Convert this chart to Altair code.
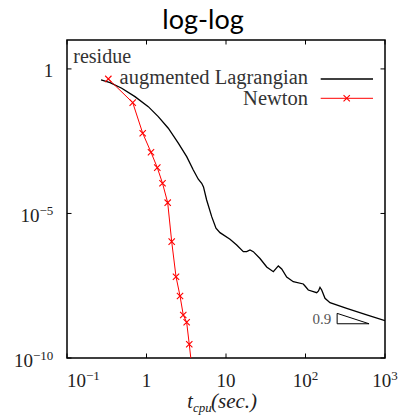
import altair as alt
import pandas as pd

# Residual history of the augmented Lagrangian solver (CPU time in seconds, residue)
al_time = [0.268, 0.348, 0.488, 0.716, 1.053, 1.406, 1.879, 2.512, 3.204, 3.879,
           4.484, 4.947, 5.21, 5.71, 6.61, 7.48, 8.40, 11.23, 13.63, 16.51,
           18.21, 20.04, 22.05, 26.77, 32.5, 39.4, 45.5, 50.2, 58.0, 70.2,
           93.8, 98.6, 108.4, 138.3, 145.7, 152.2, 159.9, 175.9, 203.3, 329.7,
           588.8, 1000]
al_res = [0.416, 0.336, 0.215, 0.110, 0.0496, 0.0224, 8.87e-3, 2.69e-3, 9.23e-4, 3.20e-4,
          1.53e-4, 1.11e-4, 8.26e-5, 2.93e-5, 7.75e-6, 3.08e-6, 2.17e-6, 1.28e-6, 8.13e-7, 4.77e-7,
          4.77e-7, 5.46e-7, 4.77e-7, 2.77e-7, 1.41e-7, 9.68e-8, 1.53e-7, 1.20e-7, 6.35e-8, 4.37e-8,
          3.64e-8, 3.10e-8, 2.25e-8, 1.82e-8, 2.08e-8, 2.79e-8, 2.25e-8, 1.16e-8, 8.19e-9, 5.25e-9,
          3.08e-9, 1.95e-9]

# Newton iterations
nt_time = [0.331, 0.671, 0.896, 1.139, 1.367, 1.590, 1.848, 2.075, 2.35, 2.64,
           2.90, 3.20, 3.45, 3.94]
nt_res = [0.451, 0.0682, 5.96e-3, 1.31e-3, 3.85e-4, 1.11e-4, 2.36e-5, 1.06e-6, 6.5e-8, 1.40e-8,
          3.08e-9, 1.72e-9, 2.98e-10, 1.17e-11]

# slope triangle (slope 0.9)
tri_time = [250, 250, 630, 250]
tri_res = [3.5e-9, 1.53e-9, 1.53e-9, 3.5e-9]
slope_label = "0.9"

# axis ticks and their labels (base and exponent)
x_ticks = [0.1, 1, 10, 100, 1000]
x_base = ["10", "1", "10", "10", "10"]
x_exp = ["\u22121", "", "", "2", "3"]
y_ticks = [1, 1e-5, 1e-10]
y_base = ["1", "10", "10"]
y_exp = ["", "\u22125", "\u221210"]

series_names = ["augmented Lagrangian", "Newton"]
title_text = "log-log"
y_title = "residue"

W, H = 318, 318
SERIF = "'Liberation Serif', 'DejaVu Serif', serif"
INK = "#222222"
RED = "#ff0000"
FS = 19
FS_EXP = 13
X_MARK = "M-1,-1L1,1M-1,1L1,-1"

xs = alt.Scale(type="log", domain=[0.1, 1000], nice=False)
ys = alt.Scale(type="log", domain=[1e-10, 10], nice=False)


def X(field):
    return alt.X(f"{field}:Q", scale=xs, axis=None)


def Y(field):
    return alt.Y(f"{field}:Q", scale=ys, axis=None)


def text_at(s, x, y, size=FS, align="left", style="normal", color=INK, font=SERIF):
    return alt.Chart(pd.DataFrame({"s": [s]})).mark_text(
        align=align, baseline="alphabetic", fontSize=size, font=font,
        fontStyle=style, color=color
    ).encode(x=alt.value(x), y=alt.value(y), text="s:N")


def exp_width(e):
    return sum(0.564 if c == "\u2212" else 0.5 for c in e) * FS_EXP


al_df = pd.DataFrame({"t": al_time, "r": al_res, "i": range(len(al_time))})
nt_df = pd.DataFrame({"t": nt_time, "r": nt_res, "i": range(len(nt_time))})
tri_df = pd.DataFrame({"t": tri_time, "r": tri_res, "i": range(len(tri_time))})

layers = []

# curves
layers.append(alt.Chart(al_df).mark_line(color="black", strokeWidth=1.3, clip=True).encode(
    x=X("t"), y=Y("r"), order="i:Q"))
layers.append(alt.Chart(nt_df).mark_line(color=RED, strokeWidth=1, clip=True).encode(
    x=X("t"), y=Y("r"), order="i:Q"))
layers.append(alt.Chart(nt_df).mark_point(shape=X_MARK, filled=False, size=40, color=RED,
                                          strokeWidth=1.1, opacity=1, clip=True).encode(
    x=X("t"), y=Y("r")))

# slope triangle and its label
layers.append(alt.Chart(tri_df).mark_line(color="black", strokeWidth=1).encode(
    x=X("t"), y=Y("r"), order="i:Q"))
layers.append(alt.Chart(pd.DataFrame({"t": [tri_time[0]], "r": [tri_res[1]], "s": [slope_label]}))
              .mark_text(align="right", baseline="alphabetic", dx=-6, fontSize=15, font=SERIF,
                         color="#555555")
              .encode(x=X("t"), y=Y("r"), text="s:N"))

# inward ticks on all four sides
xt = pd.DataFrame({"t": x_ticks})
yt = pd.DataFrame({"r": y_ticks})
for y0, y1 in [(H, H - 4.5), (0, 4.5)]:
    layers.append(alt.Chart(xt).mark_rule(color="black", strokeWidth=1).encode(
        x=X("t"), y=alt.value(y0), y2=alt.value(y1)))
for x0, x1 in [(0, 4.5), (W, W - 4.5)]:
    layers.append(alt.Chart(yt).mark_rule(color="black", strokeWidth=1).encode(
        y=Y("r"), x=alt.value(x0), x2=alt.value(x1)))

# x tick labels
XB = H + 28.5
for i, (v, b, e) in enumerate(zip(x_ticks, x_base, x_exp)):
    df = pd.DataFrame({"t": [v], "b": [b], "e": [e]})
    wb = 0.5 * FS * len(b)
    if not e:
        layers.append(alt.Chart(df).mark_text(align="center", baseline="alphabetic", fontSize=FS,
                                              font=SERIF, color=INK)
                      .encode(x=X("t"), y=alt.value(XB), text="b:N"))
        continue
    split = wb if i == 0 else (wb - exp_width(e)) / 2
    layers.append(alt.Chart(df).mark_text(align="right", baseline="alphabetic", dx=split,
                                          fontSize=FS, font=SERIF, color=INK)
                  .encode(x=X("t"), y=alt.value(XB), text="b:N"))
    layers.append(alt.Chart(df).mark_text(align="left", baseline="alphabetic", dx=split,
                                          fontSize=FS_EXP, font=SERIF, color=INK)
                  .encode(x=X("t"), y=alt.value(XB - 7), text="e:N"))

# y tick labels
YR = -13.7
for v, b, e in zip(y_ticks, y_base, y_exp):
    df = pd.DataFrame({"r": [v], "b": [b], "e": [e]})
    we = exp_width(e)
    layers.append(alt.Chart(df).mark_text(align="right", baseline="alphabetic", dy=8.5,
                                          fontSize=FS, font=SERIF, color=INK)
                  .encode(y=Y("r"), x=alt.value(YR - we), text="b:N"))
    if e:
        layers.append(alt.Chart(df).mark_text(align="right", baseline="alphabetic", dy=1.5,
                                              fontSize=FS_EXP, font=SERIF, color=INK)
                      .encode(y=Y("r"), x=alt.value(YR), text="e:N"))

# axis titles
layers.append(text_at(y_title, 6.3, 22.7, size=20, color="#333333"))
layers.append(text_at("t", 120.3, 368, size=20, style="italic"))
layers.append(text_at("cpu", 126, 372, size=13, style="italic"))
layers.append(text_at("(sec.)", 144, 368, size=21, style="italic"))

# key
layers.append(text_at(series_names[0], 241, 43.5, size=20.5, align="right", color="#333333"))
layers.append(text_at(series_names[1], 241, 64.5, size=20.5, align="right", color="#333333"))
layers.append(alt.Chart(pd.DataFrame({"k": [0]})).mark_rule(color="black", strokeWidth=1.3).encode(
    x=alt.value(253.7), x2=alt.value(306), y=alt.value(39)))
layers.append(alt.Chart(pd.DataFrame({"k": [0]})).mark_rule(color=RED, strokeWidth=1).encode(
    x=alt.value(253.7), x2=alt.value(306), y=alt.value(58.3)))
layers.append(alt.Chart(pd.DataFrame({"k": [0]})).mark_point(shape=X_MARK, filled=False, size=40,
                                                             color=RED, strokeWidth=1.1, opacity=1)
              .encode(x=alt.value(279.7), y=alt.value(58.3)))

# heading
layers.append(text_at(title_text, 136, -11, size=27, align="center", color="black", font="Lato"))

chart = alt.layer(*layers).properties(
    width=W, height=H,
    autosize=alt.AutoSizeParams(type="none"),
    padding={"left": 67, "top": 40, "right": 14, "bottom": 58},
    background="white",
).configure_view(stroke="black", strokeWidth=1.5)

chart.save("out.html", embed_options={"renderer": "svg", "actions": False})
